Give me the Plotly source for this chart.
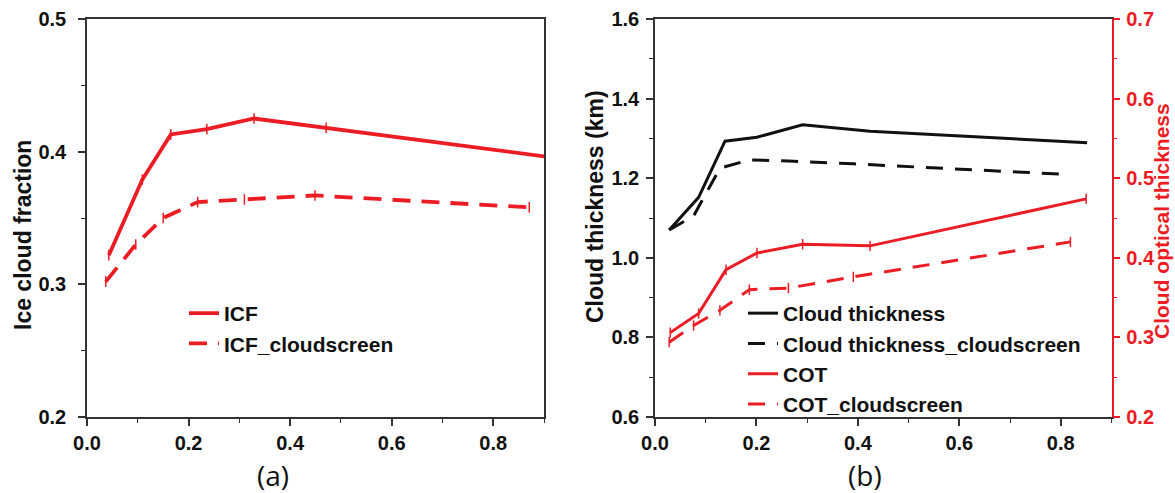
import plotly.graph_objects as go

# ---- data ----
icf_x = [0.043, 0.109, 0.165, 0.236, 0.329, 0.471, 0.93]
icf_y = [0.322, 0.379, 0.413, 0.417, 0.425, 0.418, 0.395]
icfc_x = [0.037, 0.096, 0.150, 0.218, 0.310, 0.449, 0.871]
icfc_y = [0.302, 0.330, 0.350, 0.362, 0.364, 0.367, 0.358]

ct_x = [0.028, 0.086, 0.138, 0.201, 0.291, 0.424, 0.852]
ct_y = [1.070, 1.152, 1.293, 1.303, 1.334, 1.318, 1.289]
ctc_x = [0.028, 0.076, 0.128, 0.186, 0.263, 0.391, 0.819]
ctc_y = [1.070, 1.105, 1.225, 1.246, 1.243, 1.236, 1.209]

cot_x = [0.030, 0.086, 0.140, 0.201, 0.291, 0.424, 0.850]
cot_y = [0.306, 0.330, 0.385, 0.406, 0.417, 0.415, 0.474]
cotc_x = [0.028, 0.076, 0.128, 0.186, 0.263, 0.391, 0.819]
cotc_y = [0.294, 0.315, 0.334, 0.360, 0.362, 0.376, 0.420]

RED = "#ec1c24"
BLK = "#111111"
AX = "#333333"
W, H = 1175, 493
FONT = "Liberation Sans"

def px_x(p):
    return p / W

def px_y(p):
    return 1 - p / H

fig = go.Figure()

err_a = dict(type="constant", value=0.004, width=0, thickness=1.5, color=RED)
err_b = dict(type="constant", value=0.0065, width=0, thickness=1.5, color=RED)

fig.add_trace(go.Scatter(x=icf_x, y=icf_y, mode="lines", name="ICF",
                         line=dict(color=RED, width=3.8), error_y=err_a,
                         xaxis="x", yaxis="y", legend="legend"))
fig.add_trace(go.Scatter(x=icfc_x, y=icfc_y, mode="lines", name="ICF_cloudscreen",
                         line=dict(color=RED, width=3.8, dash="18px,11px"), error_y=err_a,
                         xaxis="x", yaxis="y", legend="legend"))

fig.add_trace(go.Scatter(x=ct_x, y=ct_y, mode="lines", name="Cloud thickness",
                         line=dict(color=BLK, width=3),
                         xaxis="x2", yaxis="y2", legend="legend2"))
fig.add_trace(go.Scatter(x=ctc_x, y=ctc_y, mode="lines", name="Cloud thickness_cloudscreen",
                         line=dict(color=BLK, width=3, dash="17px,12px"),
                         xaxis="x2", yaxis="y2", legend="legend2"))
fig.add_trace(go.Scatter(x=cot_x, y=cot_y, mode="lines", name="COT",
                         line=dict(color=RED, width=3), error_y=err_b,
                         xaxis="x2", yaxis="y3", legend="legend2"))
fig.add_trace(go.Scatter(x=cotc_x, y=cotc_y, mode="lines", name="COT_cloudscreen",
                         line=dict(color=RED, width=3, dash="17px,12px"), error_y=err_b,
                         xaxis="x2", yaxis="y3", legend="legend2"))

tickfont = dict(family=FONT, size=20, color="#111111", weight="bold")
redtick = dict(family=FONT, size=20, color=RED, weight="bold")

ydom = [px_y(417), px_y(19)]

common_x = dict(range=[0, 0.9], dtick=0.2, tick0=0, tickformat=".1f", showgrid=False,
                zeroline=False, showline=True, linecolor=AX, linewidth=1.5,
                ticks="outside", ticklen=7, tickwidth=1.5, tickcolor=AX,
                minor=dict(ticks="outside", ticklen=4, dtick=0.1, tickcolor=AX, tickwidth=1.2),
                tickfont=tickfont, mirror=True, automargin=False)

fig.update_layout(
    width=W, height=H,
    margin=dict(l=0, r=0, t=0, b=0, pad=0, autoexpand=False),
    paper_bgcolor="white", plot_bgcolor="white",
    xaxis=dict(domain=[px_x(87), px_x(544)], anchor="y", **common_x),
    yaxis=dict(domain=ydom, anchor="x", range=[0.2, 0.5], dtick=0.1, tickformat=".1f",
               showgrid=False, zeroline=False, showline=True, linecolor=AX, linewidth=1.5,
               ticks="outside", ticklen=7, tickwidth=1.5, tickcolor=AX, mirror=True,
               minor=dict(ticks="outside", ticklen=4, dtick=0.05, tickcolor=AX, tickwidth=1.2),
               tickfont=tickfont, ticklabelstandoff=8, automargin=False),
    xaxis2=dict(domain=[px_x(655), px_x(1111.5)], anchor="y2", **common_x),
    yaxis2=dict(domain=ydom, anchor="x2", range=[0.6, 1.6], dtick=0.2, tickformat=".1f",
                showgrid=False, zeroline=False, showline=True, linecolor=AX, linewidth=1.5,
                ticks="outside", ticklen=7, tickwidth=1.5, tickcolor=AX, mirror=False,
                minor=dict(ticks="outside", ticklen=4, dtick=0.1, tickcolor=AX, tickwidth=1.2),
                tickfont=tickfont, ticklabelstandoff=3, automargin=False),
    yaxis3=dict(overlaying="y2", anchor="x2", side="right", range=[0.2, 0.7], dtick=0.1,
                tickformat=".1f", showgrid=False, zeroline=False, showline=True,
                linecolor=RED, linewidth=1.5, ticks="outside", ticklen=7, tickwidth=1.5,
                tickcolor=RED,
                minor=dict(ticks="outside", ticklen=4, dtick=0.05, tickcolor=RED, tickwidth=1.2),
                tickfont=redtick, ticklabelstandoff=2, automargin=False),
    legend=dict(x=px_x(184), y=px_y(293), xanchor="left", yanchor="top",
                bgcolor="rgba(0,0,0,0)", borderwidth=0,
                font=dict(family=FONT, size=21, color="#111111", weight="bold")),
    legend2=dict(x=px_x(743), y=px_y(293), xanchor="left", yanchor="top",
                 bgcolor="rgba(0,0,0,0)", borderwidth=0,
                 font=dict(family=FONT, size=21, color="#111111", weight="bold")),
    showlegend=True,
)

title_font = dict(family=FONT, size=23, color="#111111", weight="bold")
annots = [
    dict(text="Ice cloud fraction", x=px_x(23), y=px_y(235), textangle=-90, font=title_font),
    dict(text="Cloud thickness (km)", x=px_x(595), y=px_y(207), textangle=-90, font=title_font),
    dict(text="Cloud optical thickness", x=px_x(1161), y=px_y(221), textangle=-90,
         font=dict(family=FONT, size=21, color=RED, weight="bold")),
    dict(text="(a)", x=px_x(273), y=px_y(475),
         font=dict(family="Open Sans", size=28, color="#111111")),
    dict(text="(b)", x=px_x(865), y=px_y(475),
         font=dict(family="Open Sans", size=28, color="#111111")),
]
for a in annots:
    fig.add_annotation(xref="paper", yref="paper", xanchor="center", yanchor="middle",
                       showarrow=False, **a)

fig.write_html("out.html")
